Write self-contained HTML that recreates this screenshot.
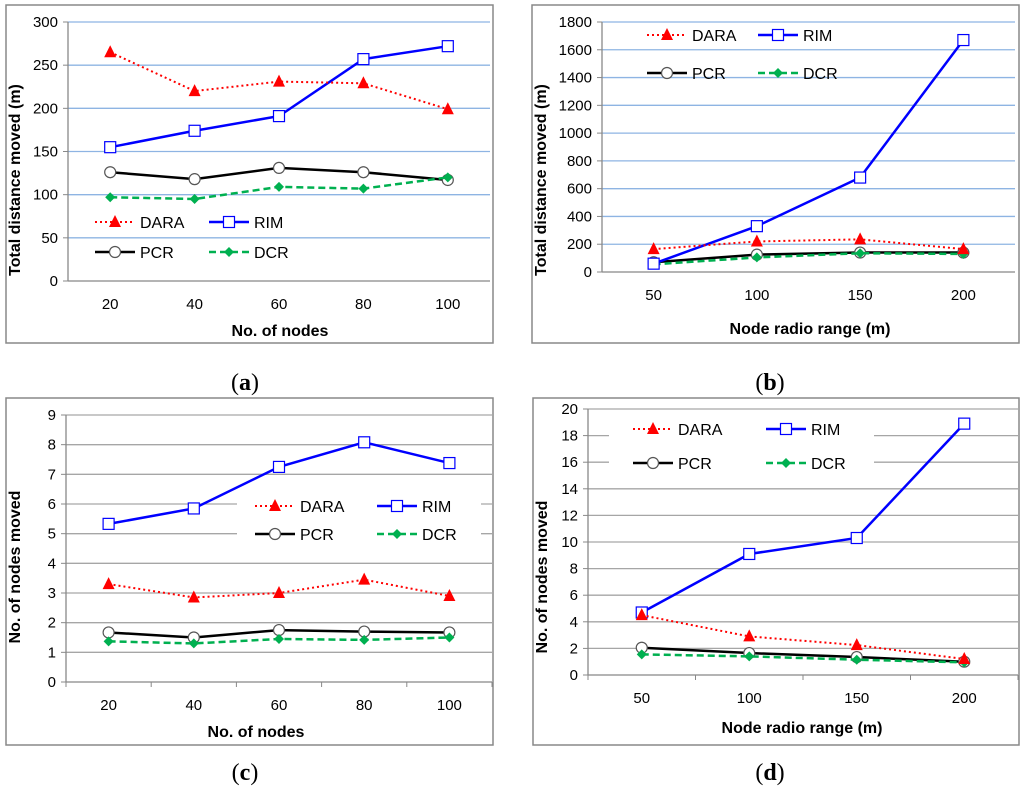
<!DOCTYPE html>
<html><head><meta charset="utf-8"><style>
html,body{margin:0;padding:0;background:#fff;}
svg{display:block;font-family:"Liberation Sans",Arial,sans-serif;}
</style></head><body>
<svg id="fig" width="1024" height="793" viewBox="0 0 1024 793" xmlns="http://www.w3.org/2000/svg">
<text x="245" y="390" text-anchor="middle" font-family="Liberation Serif,serif" font-size="24">(<tspan font-weight="bold">a</tspan>)</text>
<text x="770" y="390" text-anchor="middle" font-family="Liberation Serif,serif" font-size="24">(<tspan font-weight="bold">b</tspan>)</text>
<text x="245" y="780" text-anchor="middle" font-family="Liberation Serif,serif" font-size="24">(<tspan font-weight="bold">c</tspan>)</text>
<text x="770" y="780" text-anchor="middle" font-family="Liberation Serif,serif" font-size="24">(<tspan font-weight="bold">d</tspan>)</text>
</svg>
<script>
// Panel (a)
const catsA = ["20","40","60","80","100"];
const daraA = [265,220,231,229,199];
const rimA = [155,174,191,257,272];
const pcrA = [126,118,131,126,117];
const dcrA = [97,95,109,107,120];
const ticksA = [0,50,100,150,200,250,300];
// Panel (b)
const catsB = ["50","100","150","200"];
const daraB = [165,220,235,165];
const rimB = [60,330,680,1670];
const pcrB = [70,125,140,140];
const dcrB = [55,105,135,130];
const ticksB = [0,200,400,600,800,1000,1200,1400,1600,1800];
// Panel (c)
const catsC = ["20","40","60","80","100"];
const daraC = [3.3,2.85,3.0,3.45,2.9];
const rimC = [5.33,5.85,7.25,8.08,7.38];
const pcrC = [1.67,1.5,1.75,1.7,1.67];
const dcrC = [1.37,1.3,1.45,1.42,1.5];
const ticksC = [0,1,2,3,4,5,6,7,8,9];
// Panel (d)
const catsD = ["50","100","150","200"];
const daraD = [4.5,2.9,2.25,1.2];
const rimD = [4.7,9.1,10.3,18.9];
const pcrD = [2.05,1.65,1.35,1.0];
const dcrD = [1.55,1.4,1.15,0.95];
const ticksD = [0,2,4,6,8,10,12,14,16,18,20];

const NS="http://www.w3.org/2000/svg";
const svg=document.getElementById('fig');
function mk(tag,attrs,parent){const e=document.createElementNS(NS,tag);for(const k in attrs)e.setAttribute(k,attrs[k]);(parent||svg).appendChild(e);return e;}

const STY={
 dara:{stroke:"#ff0000",dash:"2,3",w:2,marker:"tri",fill:"#ff0000"},
 rim:{stroke:"#0000ff",dash:"",w:2.5,marker:"sq",fill:"#fff"},
 pcr:{stroke:"#000000",dash:"",w:2.5,marker:"circ",fill:"#fff"},
 dcr:{stroke:"#00b050",dash:"7,4",w:2.5,marker:"dia",fill:"#00b050"}
};
function marker(g,kind,x,y,s){
 let e;
 if(kind==="tri"){e=mk('polygon',{points:`${x},${y-7} ${x-6},${y+5} ${x+6},${y+5}`,fill:s.fill},g);}
 else if(kind==="sq"){e=mk('rect',{x:x-5.5,y:y-5.5,width:11,height:11,fill:"#fff",stroke:"#0000ff","stroke-width":1.2},g);}
 else if(kind==="circ"){e=mk('circle',{cx:x,cy:y,r:5.5,fill:"#fff",stroke:"#555","stroke-width":1.2},g);}
 else {e=mk('polygon',{points:`${x},${y-5} ${x+5},${y} ${x},${y+5} ${x-5},${y}`,fill:s.fill},g);}
 return e;
}
function panel(p){
 const g=mk('g',{});
 
 
 const fr=mk('rect',{x:p.fx,y:p.fy,width:p.fw,height:p.fh,fill:"#fff",stroke:"#888","stroke-width":1.5},g);
 
 
 const ymax=p.ticks[p.ticks.length-1];
 const yS=v=>p.y0-(v/ymax)*(p.y0-p.y1);
 const n=p.cats.length, bw=(p.xr-p.xl)/n;
 const xS=i=>p.xl+bw*(i+0.5);
 p.ticks.forEach(t=>{
  const y=yS(t);
  if(t>0){const l=mk('line',{x1:p.xl,x2:p.xr,y1:y,y2:y,stroke:p.grid,"stroke-width":1.3},g);
   }
  mk('line',{x1:p.xl-5,x2:p.xl,y1:y,y2:y,stroke:"#888"},g);
  const tx=mk('text',{x:p.xl-10,y:y+5,"text-anchor":"end","font-size":15},g);
  tx.textContent=t;
  
 });
 mk('line',{x1:p.xl,x2:p.xl,y1:p.y1,y2:p.y0,stroke:"#888","stroke-width":1.3},g);
 mk('line',{x1:p.xl,x2:p.xr,y1:p.y0,y2:p.y0,stroke:"#888","stroke-width":1.3},g);
 if(p.xticks)for(let i=0;i<=n;i++)mk('line',{x1:p.xl+bw*i,x2:p.xl+bw*i,y1:p.y0,y2:p.y0+5,stroke:"#888"},g);
 p.cats.forEach((c,i)=>{
  const tx=mk('text',{x:xS(i),y:p.y0+28,"text-anchor":"middle","font-size":15},g);
  tx.textContent=c;
  
 });
 const yt=mk('text',{x:0,y:0,"text-anchor":"middle","font-size":16,"font-weight":"bold",transform:`translate(${p.ytx},${p.yty}) rotate(-90)`},g);
 yt.textContent=p.ytitle;
 
 const xt=mk('text',{x:p.xtx,y:p.xty,"text-anchor":"middle","font-size":16,"font-weight":"bold"},g);
 xt.textContent=p.xtitle;
 
 if(p.lbox){const lb=mk('rect',{x:p.lbox[0],y:p.lbox[1],width:p.lbox[2],height:p.lbox[3],fill:"#fff"},g);
  }
 const order=["pcr","dcr","rim","dara"];
 order.forEach(k=>{
  const s=STY[k], vals=p.series[k];
  const pts=vals.map((v,i)=>xS(i)+","+yS(v)).join(" ");
  const sg=mk('g',{},g);
  
  
  mk('polyline',{points:pts,fill:"none",stroke:s.stroke,"stroke-width":s.w,"stroke-dasharray":s.dash},sg);
  vals.forEach((v,i)=>{const m=marker(sg,s.marker,xS(i),yS(v),s);
   });
 });
 const labels={dara:"DARA",rim:"RIM",pcr:"PCR",dcr:"DCR"};
 const pos={dara:[p.lx1,p.ly1],rim:[p.lx2,p.ly1],pcr:[p.lx1,p.ly2],dcr:[p.lx2,p.ly2]};
 ["dara","rim","pcr","dcr"].forEach(k=>{
  const s=STY[k],[x,y]=pos[k];
  const lg=mk('g',{},g);
  
  
  mk('line',{x1:x,x2:x+40,y1:y,y2:y,stroke:s.stroke,"stroke-width":s.w,"stroke-dasharray":s.dash},lg);
  marker(lg,s.marker,x+20,y,s);
  const t=mk('text',{x:x+45,y:y+6,"font-size":16},lg);
  t.textContent=labels[k];
 });
}
panel({name:"chart-a",fx:6,fy:5,fw:487,fh:338,xl:68,xr:490,y0:281,y1:22,grid:"#8eb4e3",xticks:false,
 cats:catsA,ticks:ticksA,series:{dara:daraA,rim:rimA,pcr:pcrA,dcr:dcrA},
 ytitle:"Total distance moved (m)",ytx:20,yty:180,xtitle:"No. of nodes",xtx:280,xty:336,
 lx1:95,lx2:209,ly1:222,ly2:252});
panel({name:"chart-b",fx:532,fy:5,fw:487,fh:338,xl:602,xr:1015,y0:272,y1:22,grid:"#8eb4e3",xticks:false,
 cats:catsB,ticks:ticksB,series:{dara:daraB,rim:rimB,pcr:pcrB,dcr:dcrB},
 ytitle:"Total distance moved (m)",ytx:546,yty:180,xtitle:"Node radio range (m)",xtx:810,xty:334,
 lx1:647,lx2:758,ly1:35,ly2:73});
panel({name:"chart-c",fx:6,fy:398,fw:487,fh:347,xl:66,xr:492,y0:682,y1:415,grid:"#a6a6a6",xticks:true,
 cats:catsC,ticks:ticksC,series:{dara:daraC,rim:rimC,pcr:pcrC,dcr:dcrC},
 ytitle:"No. of nodes moved",ytx:20,yty:567,xtitle:"No. of nodes",xtx:256,xty:737,
 lbox:[237,494,244,52],lx1:255,lx2:377,ly1:506,ly2:534});
panel({name:"chart-d",fx:533,fy:398,fw:486,fh:347,xl:588,xr:1018,y0:675,y1:409,grid:"#a6a6a6",xticks:true,
 cats:catsD,ticks:ticksD,series:{dara:daraD,rim:rimD,pcr:pcrD,dcr:dcrD},
 ytitle:"No. of nodes moved",ytx:547,yty:577,xtitle:"Node radio range (m)",xtx:802,xty:733,
 lbox:[609,416,265,60],lx1:633,lx2:766,ly1:429,ly2:463});
</script>
</body></html>
